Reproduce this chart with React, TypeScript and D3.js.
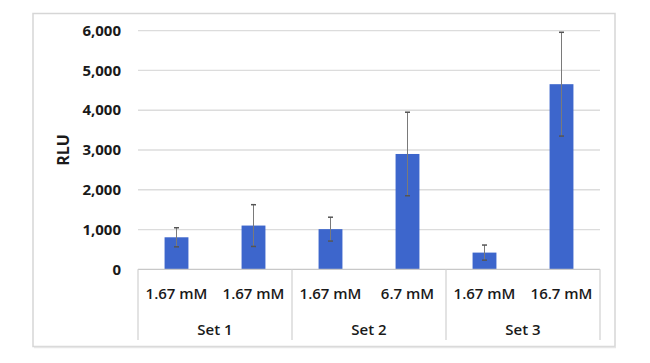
import React from "react";
import * as d3 from "d3";

const categories = ["1.67 mM", "1.67 mM", "1.67 mM", "6.7 mM", "1.67 mM", "16.7 mM"];
const groups = ["Set 1", "Set 2", "Set 3"];
const values = [805, 1100, 1010, 2900, 420, 4655];
const errors = [240, 525, 300, 1050, 190, 1305];
const yTicks = [0, 1000, 2000, 3000, 4000, 5000, 6000];
const yLabel = "RLU";

const W = 650, H = 363;
const left = 138, right = 600, top = 30.7, bottom = 269.3;
const font = "'Open Sans', 'Liberation Sans', sans-serif";

export default function App() {
  const idx = categories.map((_, i) => String(i));
  const x = d3.scaleBand<string>().domain(idx).range([left, right]).paddingInner(0.69).paddingOuter(0.345);
  const xg = d3.scaleBand<string>().domain(groups).range([left, right]);
  const y = d3.scaleLinear().domain([0, 6000]).range([bottom, top]);
  const fmt = d3.format(",");
  const bw = x.bandwidth();
  return (
    <svg width={W} height={H} style={{ position: "absolute", left: 0, top: 0, background: "#fff" }}>
      <rect x={33} y={13.5} width={582} height={333} fill="#fff" stroke="#d6d6d6" strokeWidth={1.5} />
      <line x1={34} x2={616} y1={347.5} y2={347.5} stroke="#e6e6e6" strokeWidth={1.5} />
      {yTicks.filter(t => t > 0).map(t => (
        <line key={t} x1={left} x2={right} y1={y(t)} y2={y(t)} stroke="#dcdcdc" strokeWidth={1.3} />
      ))}
      {yTicks.map(t => (
        <text key={"l" + t} x={121} y={y(t)} dy="0.35em" textAnchor="end" fontFamily={font} fontWeight={700} fontSize={15} fill="#1a1a1a">
          {fmt(t)}
        </text>
      ))}
      <text transform={`translate(63,150) rotate(-90)`} textAnchor="middle" dy="0.35em" fontFamily={font} fontWeight={700} fontSize={16} fill="#1a1a1a">
        {yLabel}
      </text>
      {values.map((v, i) => (
        <rect key={"b" + i} x={x(String(i))!} y={y(v)} width={bw} height={y(0) - y(v)} fill="#3d66cc" />
      ))}
      {values.map((v, i) => {
        const cx = x(String(i))! + bw / 2;
        return (
          <g key={"e" + i} stroke="#7a7a7a" strokeWidth={1}>
            <line x1={cx} x2={cx} y1={y(v + errors[i])} y2={y(v - errors[i])} />
            <line x1={cx - 2.5} x2={cx + 2.5} y1={y(v + errors[i])} y2={y(v + errors[i])} strokeWidth={1.5} stroke="#555" />
            <line x1={cx - 2.5} x2={cx + 2.5} y1={y(v - errors[i])} y2={y(v - errors[i])} strokeWidth={1.5} stroke="#555" />
          </g>
        );
      })}
      <line x1={left} x2={right} y1={bottom} y2={bottom} stroke="#c8c8c8" strokeWidth={1.2} />
      {[...groups.map(g => xg(g)!), right].map((gx, i) => (
        <line key={"v" + i} x1={gx} x2={gx} y1={bottom} y2={340} stroke="#d0d0d0" strokeWidth={1.2} />
      ))}
      {categories.map((c, i) => (
        <text key={"c" + i} x={x(String(i))! + bw / 2} y={294} dy="0.35em" textAnchor="middle" fontFamily={font} fontWeight={600} fontSize={15} fill="#1a1a1a">
          {c}
        </text>
      ))}
      {groups.map((g, i) => (
        <text key={"g" + i} x={xg(g)! + xg.bandwidth() / 2} y={330} dy="0.35em" textAnchor="middle" fontFamily={font} fontWeight={600} fontSize={15} fill="#1a1a1a">
          {g}
        </text>
      ))}
    </svg>
  );
}
